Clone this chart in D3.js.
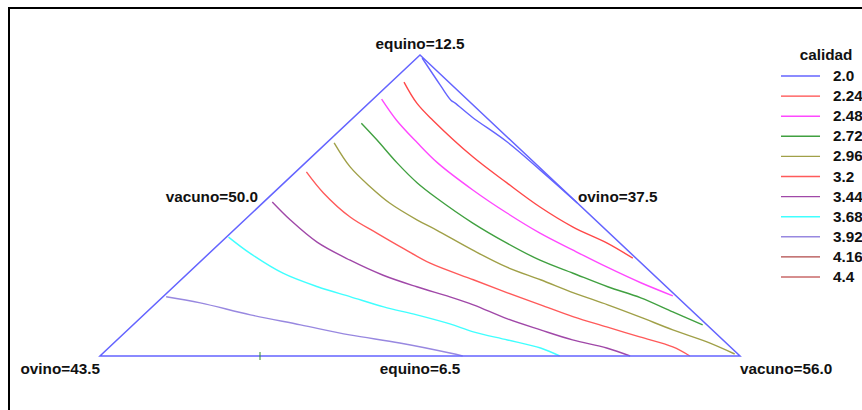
<!DOCTYPE html>
<html>
<head>
<meta charset="utf-8">
<script src="https://cdn.jsdelivr.net/npm/d3@7"></script>
<style>
  body { margin: 0; background: #fff; }
  svg { display: block; }
  text { font-family: Arial, "Liberation Sans", sans-serif; font-weight: bold; fill: #111; }
</style>
</head>
<body>
<svg id="chart" width="862" height="410"></svg>
<script>
// mixture components and their ranges (pseudo-component limits)
const components = ['equino', 'ovino', 'vacuno']
const lower = [6.5, 37.5, 50.0]
const upper = [12.5, 43.5, 56.0]

// contour levels of calidad
const levels = ['2.0', '2.24', '2.48', '2.72', '2.96', '3.2', '3.44', '3.68', '3.92', '4.16', '4.4']

// contour lines, points as [equino, ovino] (vacuno = 100 - equino - ovino)
const c200 = [[12.44, 37.51], [11.90, 37.61], [11.60, 37.66], [11.54, 37.65], [11.26, 37.63], [10.77, 37.55], [10.21, 37.52], [9.55, 37.50]]
const c224 = [[11.96, 37.92], [11.54, 38.01], [11.20, 38.03], [10.47, 38.02], [9.95, 37.96], [9.47, 37.89], [9.07, 37.78], [8.75, 37.62], [8.45, 37.53]]
const c248 = [[11.62, 38.30], [11.20, 38.37], [10.75, 38.40], [10.35, 38.41], [9.81, 38.35], [9.35, 38.26], [8.95, 38.15], [8.61, 38.01], [8.27, 37.86], [7.96, 37.70], [7.70, 37.53]]
const c272 = [[11.14, 38.73], [10.81, 38.75], [10.35, 38.79], [9.95, 38.80], [9.65, 38.77], [9.15, 38.68], [8.75, 38.56], [8.41, 38.42], [8.15, 38.24], [7.88, 38.05], [7.66, 37.85], [7.38, 37.69], [7.12, 37.54]]
const c296 = [[10.75, 39.18], [10.27, 39.27], [9.87, 39.28], [9.55, 39.26], [9.21, 39.17], [9.01, 39.09], [8.61, 38.95], [8.27, 38.80], [8.02, 38.61], [7.76, 38.43], [7.52, 38.23], [7.28, 38.05], [7.02, 37.87], [6.78, 37.67], [6.54, 37.53]]
const c320 = [[10.17, 39.73], [9.75, 39.78], [9.27, 39.77], [8.95, 39.68], [8.63, 39.58], [8.35, 39.48], [8.02, 39.24], [7.76, 39.05], [7.52, 38.86], [7.28, 38.67], [7.08, 38.46], [6.88, 38.25], [6.68, 38.04], [6.50, 37.97]]
const c344 = [[9.57, 40.35], [9.21, 40.36], [8.77, 40.33], [8.41, 40.20], [8.11, 40.04], [7.88, 39.84], [7.68, 39.63], [7.52, 39.49], [7.24, 39.31], [7.02, 39.11], [6.82, 38.91], [6.66, 38.67], [6.50, 38.53]]
const c368 = [[8.87, 41.11], [8.55, 41.07], [8.15, 40.96], [7.88, 40.77], [7.68, 40.56], [7.48, 40.35], [7.32, 40.12], [7.14, 39.90], [6.98, 39.76], [6.82, 39.52], [6.66, 39.29], [6.50, 39.19]]
const c392 = [[7.68, 42.29], [7.56, 42.03], [7.32, 41.68], [7.12, 41.31], [6.92, 40.95], [6.76, 40.56], [6.56, 40.19], [6.50, 40.10]]
const c416 = []
const c440 = []

// tick marks on the base edge (vacuno values)
const baseTicks = [51.5]

let colors = ['#6464ff', '#ff4848', '#ff48ff', '#40a040', '#a0a048', '#ff5a5a', '#a048a8', '#40ffff', '#9888e0', '#b04848', '#c86868']
let contours = [c200, c224, c248, c272, c296, c320, c344, c368, c392, c416, c440]

let svg = d3.select('#chart')
let fontSize = 15.3

// frame
svg.append('rect')
   .attr('x', 9)
   .attr('y', 8)
   .attr('width', 900)
   .attr('height', 500)
   .attr('fill', 'none')
   .attr('stroke', '#000')
   .attr('stroke-width', 2)

// scales: equino -> height, vacuno share -> horizontal
let eq = d3.scaleLinear().domain([lower[0], upper[0]]).range([0, 1])
let vac = d3.scaleLinear().domain([lower[2], upper[2]]).range([0, 1])
let xScale = d3.scaleLinear().domain([0, 1]).range([100, 740])
let yScale = d3.scaleLinear().domain([lower[0], upper[0]]).range([356, 55])

var project = function (e, o) {
  let v = 100 - e - o
  return [xScale(vac(v) + eq(e) / 2), yScale(e)]
}

// vertices: equino max (top), ovino max (left), vacuno max (right)
let vTop = project(upper[0], lower[1])
let vLeft = project(lower[0], upper[1])
let vRight = project(lower[0], lower[1])

let line = d3.line()
let smooth = d3.line().curve(d3.curveCatmullRom.alpha(0.5))

// contours
svg.append('g')
   .selectAll('path')
   .data(contours)
   .enter()
   .append('path')
   .attr('d', d => d.length ? smooth(d.map(p => project(p[0], p[1]))) : null)
   .attr('fill', 'none')
   .attr('stroke', (d, i) => colors[i])
   .attr('stroke-width', 1.4)

// triangle
svg.append('path')
   .attr('d', line([vTop, vLeft, vRight]) + 'Z')
   .attr('fill', 'none')
   .attr('stroke', colors[0])
   .attr('stroke-width', 1.5)

// base ticks
svg.append('g')
   .selectAll('line')
   .data(baseTicks)
   .enter()
   .append('line')
   .attr('x1', d => project(lower[0], 100 - lower[0] - d)[0])
   .attr('x2', d => project(lower[0], 100 - lower[0] - d)[0])
   .attr('y1', vLeft[1] - 4)
   .attr('y2', vLeft[1] + 4)
   .attr('stroke', '#2e8b2e')
   .attr('stroke-width', 1)

var lbl = function (i, val) {
  return components[i] + '=' + val.toFixed(1)
}

// vertex labels
svg.append('text').attr('x', vTop[0]).attr('y', vTop[1] - 6)
   .attr('text-anchor', 'middle').style('font-size', fontSize + 'px').text(lbl(0, upper[0]))
svg.append('text').attr('x', vLeft[0]).attr('y', vLeft[1] + 18)
   .attr('text-anchor', 'end').style('font-size', fontSize + 'px').text(lbl(1, upper[1]))
svg.append('text').attr('x', vRight[0]).attr('y', vRight[1] + 18)
   .attr('text-anchor', 'start').style('font-size', fontSize + 'px').text(lbl(2, upper[2]))

// edge labels (lower limits, at edge midpoints)
let mLeft = [(vTop[0] + vLeft[0]) / 2, (vTop[1] + vLeft[1]) / 2]
let mRight = [(vTop[0] + vRight[0]) / 2, (vTop[1] + vRight[1]) / 2]
let mBase = [(vLeft[0] + vRight[0]) / 2, vLeft[1]]
svg.append('text').attr('x', mLeft[0] - 2).attr('y', mLeft[1] - 4)
   .attr('text-anchor', 'end').style('font-size', fontSize + 'px').text(lbl(2, lower[2]))
svg.append('text').attr('x', mRight[0] - 2).attr('y', mRight[1] - 4)
   .attr('text-anchor', 'start').style('font-size', fontSize + 'px').text(lbl(1, lower[1]))
svg.append('text').attr('x', mBase[0]).attr('y', mBase[1] + 18)
   .attr('text-anchor', 'middle').style('font-size', fontSize + 'px').text(lbl(0, lower[0]))

// legend
let legend = svg.append('g')
legend.append('text')
      .attr('x', 826)
      .attr('y', 60)
      .attr('text-anchor', 'middle')
      .style('font-size', fontSize + 'px')
      .text('calidad')

let rowY = d3.scaleLinear().domain([0, levels.length - 1]).range([76, 277])
let rows = legend.selectAll('g.row')
                 .data(levels)
                 .enter()
                 .append('g')
                 .attr('class', 'row')
rows.append('line')
    .attr('x1', 781)
    .attr('x2', 820)
    .attr('y1', (d, i) => rowY(i))
    .attr('y2', (d, i) => rowY(i))
    .attr('stroke', (d, i) => colors[i])
    .attr('stroke-width', 1.4)
rows.append('text')
    .attr('x', 833)
    .attr('y', (d, i) => rowY(i) + 5)
    .style('font-size', fontSize + 'px')
    .text(d => d)
</script>
</body>
</html>
